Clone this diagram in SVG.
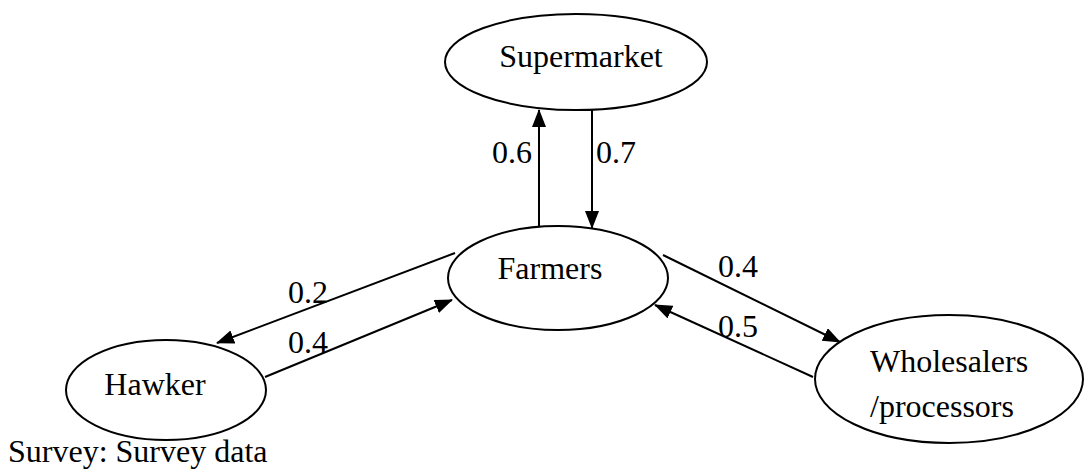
<svg xmlns="http://www.w3.org/2000/svg" width="1085" height="471" viewBox="0 0 1085 471">
<style>
.node{fill:#fff;stroke:#000;stroke-width:2}
.t{font-family:"Liberation Serif","Times New Roman",serif;font-size:32px;fill:#000}
.c{text-anchor:middle}
.edge{stroke:#000;stroke-width:2;fill:none;marker-end:url(#ah)}
</style>
<defs>
<marker id="ah" markerUnits="userSpaceOnUse" markerWidth="18" markerHeight="14" viewBox="0 0 18 14" refX="17" refY="7" orient="auto">
<path d="M0,0 L18,7 L0,14 Z" fill="#000"/>
</marker>
</defs>
<rect width="1085" height="471" fill="#fff"/>
<g id="connectors">
<line class="edge" x1="539" y1="227" x2="539" y2="110"/>
<line class="edge" x1="592" y1="110" x2="592" y2="228"/>
<line class="edge" x1="455" y1="253" x2="217" y2="343"/>
<line class="edge" x1="265" y1="377" x2="452" y2="300"/>
<line class="edge" x1="663" y1="255" x2="840" y2="342"/>
<line class="edge" x1="813" y1="377" x2="655" y2="305"/>
<text class="t" x="492" y="163">0.6</text>
<text class="t" x="596" y="163">0.7</text>
<text class="t" x="288" y="303">0.2</text>
<text class="t" x="288" y="353">0.4</text>
<text class="t" x="718" y="277">0.4</text>
<text class="t" x="718" y="337">0.5</text>
</g>
<g id="supermarket">
<ellipse class="node" cx="576" cy="62" rx="131" ry="48"/>
<text class="t c" x="581" y="67">Supermarket</text>
</g>
<g id="farmers">
<ellipse class="node" cx="558" cy="278" rx="110" ry="52"/>
<text class="t c" x="550" y="279">Farmers</text>
</g>
<g id="hawker">
<ellipse class="node" cx="166" cy="390" rx="100" ry="50"/>
<text class="t c" x="155" y="395">Hawker</text>
</g>
<g id="wholesalers">
<ellipse class="node" cx="949" cy="379" rx="134" ry="64"/>
<text class="t" x="870" y="372">Wholesalers</text>
<text class="t" x="870" y="417">/processors</text>
</g>
<text class="t" x="8" y="462">Survey: Survey data</text>
</svg>
